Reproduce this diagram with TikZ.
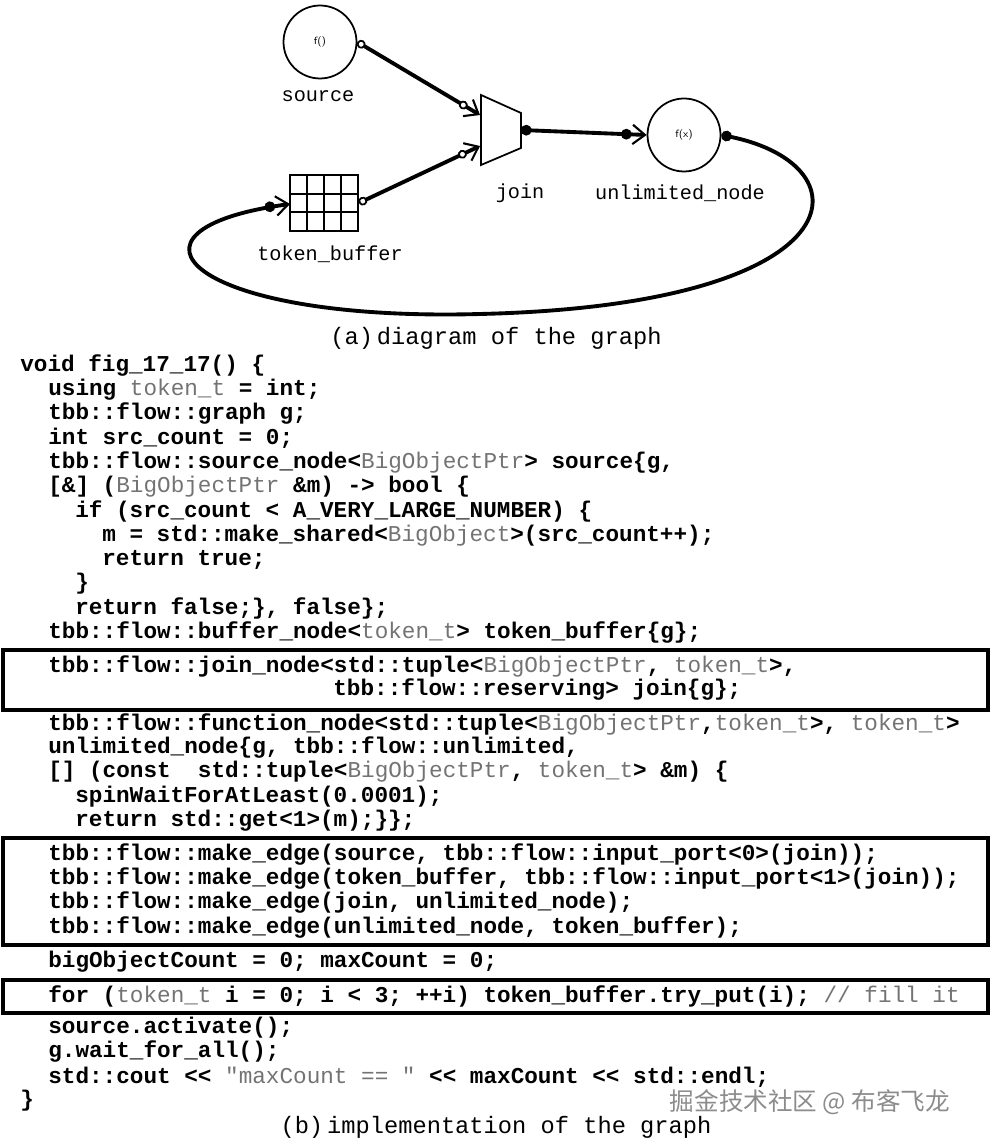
\documentclass[tikz,border=0pt]{standalone}
\usepackage{fontspec}
\setmainfont{Liberation Sans}
\setmonofont{Liberation Mono}
\newfontfamily\cjk{Noto Sans CJK SC}
\usetikzlibrary{arrows.meta,calc}
\newcommand{\ty}[1]{{\mdseries\color{black!55}#1}}
\tikzset{
  codeline/.style={anchor=west, inner sep=0pt, font=\ttfamily\bfseries\fontsize{12.9}{14}\selectfont},
  graphlabel/.style={font=\ttfamily\fontsize{11.5}{13}\selectfont},
  caption/.style={font=\ttfamily\fontsize{13.5}{15}\selectfont},
  fnode/.style={circle, draw, line width=1pt, minimum size=1.46cm, inner sep=0pt, font=\sffamily\fontsize{6}{7}\selectfont},
  flow/.style={line width=2.2pt},
  codebox/.style={draw, line width=2.6pt},
  openedge/.style={{Circle[open,fill=white,length=5pt,line width=1pt]}-{Circle[open,fill=white,length=5pt,line width=1pt] Straight Barb[length=7pt,width=11pt,line width=1.2pt]}},
  dotedge/.style={{Circle[length=6pt]}-{Circle[length=6pt] Straight Barb[length=7pt,width=11pt,line width=1.2pt]}},
  loopedge/.style={{Circle[length=6pt]}-{Circle[length=6pt] Straight Barb[length=7pt,width=11pt,line width=1.2pt]}},
}
\begin{document}
\begin{tikzpicture}[x=0.02cm,y=-0.02cm]
    \useasboundingbox (0,0) rectangle (993,1141);
    % graph
    \node[fnode] (source) at (320,42) {f()};
    \node[graphlabel] (sourcelbl) at (318,96) {source};
    \node[fnode] (unlimited) at (684,135) {f(x)};
    \node[graphlabel] (unlimitedlbl) at (680,193) {unlimited\_node};
    \draw[line width=1pt] (481,95) -- (521,113) -- (521,148) -- (481,165) -- cycle;
    \node[graphlabel] (joinlbl) at (520,193) {join};
    \node[draw, line width=1pt, minimum width=1.36cm, minimum height=1.12cm, inner sep=0pt] (tb) at (324,203) {};
    \foreach \x in {307,324,341} \draw[line width=1pt] (\x,175) -- (\x,231);
    \foreach \y in {193.7,212.3} \draw[line width=1pt] (290,\y) -- (358,\y);
    \node[graphlabel] (tblbl) at (330,254) {token\_buffer};
    \coordinate (joinin0) at (480,115);
    \coordinate (joinin1) at (480,146);
    \coordinate (joinout) at (521,130);
    \coordinate (tbin) at (290,204);
    \draw[flow, openedge] (source.east) -- (joinin0);
    \draw[flow, openedge] (tb.east) -- (joinin1);
    \draw[flow, dotedge] (joinout) -- (unlimited.west);
    \draw[flow, loopedge] (unlimited.east) .. controls (870,165) and (860,305) .. (480,314) .. controls (190,322) and (100,230) .. (tbin);
    \node[caption] (capa) at (496,338) {(a)\,diagram of the graph};
    % code
    \draw[codebox] (3,650) rectangle (988,710);
    \draw[codebox] (3,838) rectangle (988,945);
    \draw[codebox] (3,980) rectangle (988,1013);
    \node[codeline] (l1) at (20,366) {void fig\_17\_17() \{};
    \node[codeline] (l2) at (48,390) {using \ty{token\_t} = int;};
    \node[codeline] (l3) at (48,414) {tbb::flow::graph g;};
    \node[codeline] (l4) at (48,438) {int src\_count = 0;};
    \node[codeline] (l5) at (48,463) {tbb::flow::source\_node<\ty{BigObjectPtr}> source\{g,};
    \node[codeline] (l6) at (48,487) {[\&] (\ty{BigObjectPtr} \&m) -> bool \{};
    \node[codeline] (l7) at (75,511) {if (src\_count < A\_VERY\_LARGE\_NUMBER) \{};
    \node[codeline] (l8) at (102,536) {m = std::make\_shared<\ty{BigObject}>(src\_count++);};
    \node[codeline] (l9) at (102,560) {return true;};
    \node[codeline] (l10) at (75,584) {\}};
    \node[codeline] (l11) at (75,608) {return false;\}, false\};};
    \node[codeline] (l12) at (48,633) {tbb::flow::buffer\_node<\ty{token\_t}> token\_buffer\{g\};};
    \node[codeline] (l13) at (48,666) {tbb::flow::join\_node<std::tuple<\ty{BigObjectPtr}, \ty{token\_t}>,};
    \node[codeline] (l14) at (333,690) {tbb::flow::reserving> join\{g\};};
    \node[codeline] (l15) at (48,724) {tbb::flow::function\_node<std::tuple<\ty{BigObjectPtr},\ty{token\_t}>, \ty{token\_t}>};
    \node[codeline] (l16) at (48,748) {unlimited\_node\{g, tbb::flow::unlimited,};
    \node[codeline] (l17) at (48,772) {[] (const\ \ std::tuple<\ty{BigObjectPtr}, \ty{token\_t}> \&m) \{};
    \node[codeline] (l18) at (75,797) {spinWaitForAtLeast(0.0001);};
    \node[codeline] (l19) at (75,821) {return std::get<1>(m);\}\};};
    \node[codeline] (l20) at (48,855) {tbb::flow::make\_edge(source, tbb::flow::input\_port<0>(join));};
    \node[codeline] (l21) at (48,879) {tbb::flow::make\_edge(token\_buffer, tbb::flow::input\_port<1>(join));};
    \node[codeline] (l22) at (48,903) {tbb::flow::make\_edge(join, unlimited\_node);};
    \node[codeline] (l23) at (48,928) {tbb::flow::make\_edge(unlimited\_node, token\_buffer);};
    \node[codeline] (l24) at (48,962) {bigObjectCount = 0; maxCount = 0;};
    \node[codeline] (l25) at (48,996) {for (\ty{token\_t} i = 0; i < 3; ++i) token\_buffer.try\_put(i); \ty{// fill it}};
    \node[codeline] (l26) at (48,1028) {source.activate();};
    \node[codeline] (l27) at (48,1052) {g.wait\_for\_all();};
    \node[codeline] (l28) at (48,1077) {std::cout << \ty{"maxCount == "} << maxCount << std::endl;};
    \node[codeline] (l29) at (20,1101) {\}};
    \node[caption] (capb) at (496,1127) {(b)\,implementation of the graph};
    \node[font=\cjk\fontsize{14}{16}\selectfont, text=black!45] (mark) at (810,1102) {掘金技术社区 @ 布客飞龙};
\end{tikzpicture}
\end{document}
